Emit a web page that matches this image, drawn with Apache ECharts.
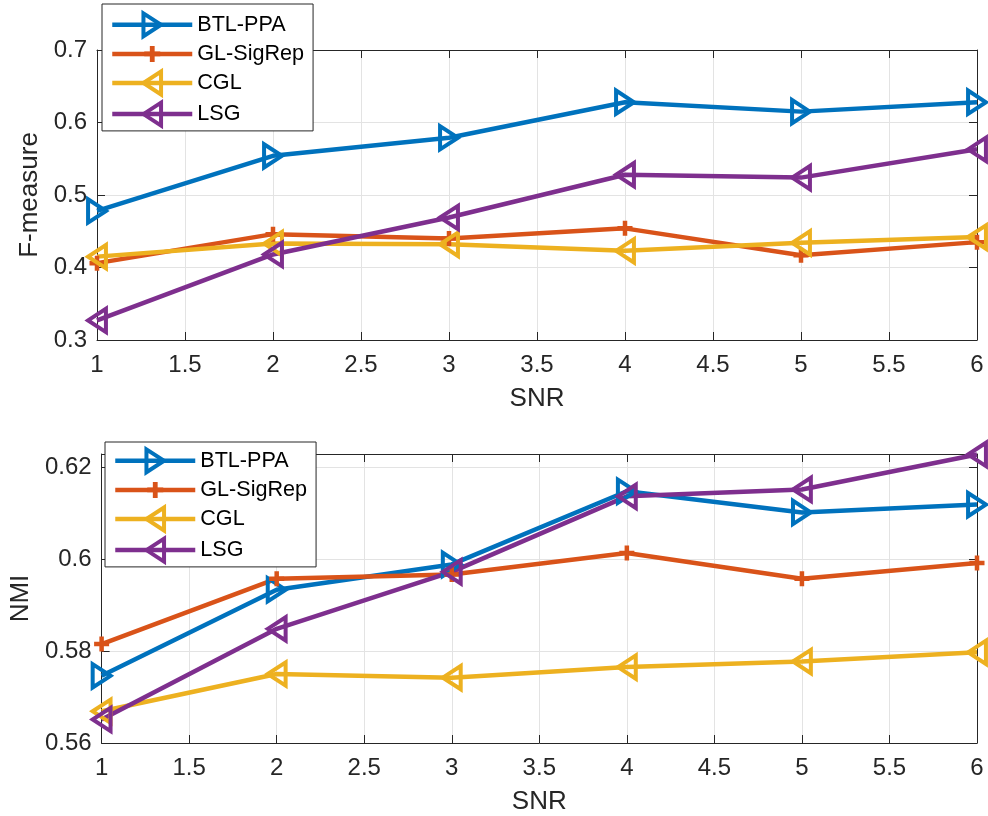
<!DOCTYPE html>
<html>
<head>
<meta charset="utf-8">
<script src="https://cdn.jsdelivr.net/npm/echarts@6/dist/echarts.min.js"></script>
<style>
  html, body { margin: 0; padding: 0; background: #ffffff; }
  #chart { width: 988px; height: 816px; }
</style>
</head>
<body>
<div id="chart"></div>
<script>
// SNR levels on the horizontal axis
const snr = [1, 2, 3, 4, 5, 6];
const methods = ['BTL-PPA', 'GL-SigRep', 'CGL', 'LSG'];

// F-measure per method
const fBTL = [0.478, 0.554, 0.579, 0.628, 0.615, 0.628];
const fGL  = [0.406, 0.446, 0.440, 0.454, 0.417, 0.435];
const fCGL = [0.415, 0.433, 0.432, 0.423, 0.434, 0.442];
const fLSG = [0.327, 0.418, 0.469, 0.528, 0.524, 0.563];

// NMI per method
const nBTL = [0.5746, 0.5933, 0.5988, 0.6147, 0.6101, 0.6118];
const nGL  = [0.5815, 0.5957, 0.5966, 0.6013, 0.5957, 0.5991];
const nCGL = [0.5669, 0.5750, 0.5742, 0.5765, 0.5777, 0.5797];
const nLSG = [0.5651, 0.5848, 0.5972, 0.6136, 0.6151, 0.6227];

// Axis ranges and ticks
const xTicks = { min: 1, max: 6, interval: 0.5 };
const fTicks = { min: 0.3, max: 0.7, interval: 0.1 };
const nTicks = { min: 0.56, max: 0.6228, interval: 0.02 };

const FONT = '"Liberation Sans", Arial, Helvetica, sans-serif';
const AX = '#262626';
const GRIDC = '#e3e3e3';
const LINE_W = 4.5;
const MARK_W = 4;

// Marker outlines drawn inside a padded 24x24 (triangle) / 32x32 (plus) box,
// so the same symbol keeps its proportions in the plot and in the legend.
const triPath  = 'path://M-12,-12M12,12M0,-8.25L10.75,8.25L-10.75,8.25Z';
const plusPath = 'path://M-16,-16M16,16M-3,-10H3V-3H10V3H3V10H-3V3H-10V-3H-3Z';

const styles = {
  'BTL-PPA':   { color: '#0072BD', symbol: triPath,  size: 26, rotate: -90, hollow: true },
  'GL-SigRep': { color: '#D95319', symbol: plusPath, size: 24, rotate: 0,   hollow: false },
  'CGL':       { color: '#EDB120', symbol: triPath,  size: 26, rotate: 90,  hollow: true },
  'LSG':       { color: '#7E2F8E', symbol: triPath,  size: 26, rotate: 90,  hollow: true }
};

function markerStyle(s) {
  return s.hollow
    ? { color: 'rgba(0,0,0,0)', borderColor: s.color, borderWidth: MARK_W }
    : { color: s.color, borderColor: s.color, borderWidth: 0 };
}

function lineSeries(name, values, axisIdx) {
  const s = styles[name];
  return {
    type: 'line',
    name: name,
    xAxisIndex: axisIdx,
    yAxisIndex: axisIdx,
    data: snr.map((x, i) => [x, values[i]]),
    symbol: s.symbol,
    symbolSize: s.size,
    symbolRotate: s.rotate,
    showAllSymbol: true,
    clip: false,
    lineStyle: { color: s.color, width: LINE_W },
    itemStyle: markerStyle(s),
    emphasis: { disabled: true },
    z: 3
  };
}

function xAxes(gridIndex) {
  return [
    {
      type: 'value', gridIndex: gridIndex, position: 'bottom',
      min: xTicks.min, max: xTicks.max, interval: xTicks.interval,
      axisLine: { show: true, onZero: false, lineStyle: { color: AX, width: 1 } },
      axisTick: { show: true, inside: true, length: 8, lineStyle: { color: AX } },
      axisLabel: { fontSize: 24, color: AX, margin: 13, fontFamily: FONT },
      splitLine: { show: true, lineStyle: { color: GRIDC, width: 1 } },
      name: 'SNR', nameLocation: 'middle', nameGap: 46,
      nameTextStyle: { fontSize: 26, color: AX, fontFamily: FONT }
    },
    {
      type: 'value', gridIndex: gridIndex, position: 'top',
      min: xTicks.min, max: xTicks.max, interval: xTicks.interval,
      axisLine: { show: true, onZero: false, lineStyle: { color: AX, width: 1 } },
      axisTick: { show: true, inside: true, length: 8, lineStyle: { color: AX } },
      axisLabel: { show: false },
      splitLine: { show: false }
    }
  ];
}

function yAxes(gridIndex, ticks, name, gap, showMax) {
  return [
    {
      type: 'value', gridIndex: gridIndex, position: 'left',
      min: ticks.min, max: ticks.max, interval: ticks.interval,
      axisLine: { show: true, onZero: false, lineStyle: { color: AX, width: 1 } },
      axisTick: { show: true, inside: true, length: 8, lineStyle: { color: AX } },
      axisLabel: { fontSize: 24, color: AX, margin: 10, fontFamily: FONT, showMaxLabel: showMax },
      splitLine: { show: true, lineStyle: { color: GRIDC, width: 1 } },
      name: name, nameLocation: 'middle', nameGap: gap,
      nameTextStyle: { fontSize: 26, color: AX, fontFamily: FONT }
    },
    {
      type: 'value', gridIndex: gridIndex, position: 'right',
      min: ticks.min, max: ticks.max, interval: ticks.interval,
      axisLine: { show: true, onZero: false, lineStyle: { color: AX, width: 1 } },
      axisTick: { show: true, inside: true, length: 8, lineStyle: { color: AX } },
      axisLabel: { show: false },
      splitLine: { show: false }
    }
  ];
}

function legendBox(left, top, padding) {
  return {
    data: methods.map(m => ({
      name: m,
      itemStyle: markerStyle(styles[m]),
      lineStyle: { color: styles[m].color, width: LINE_W }
    })),
    orient: 'vertical',
    left: left, top: top,
    itemWidth: 80, itemHeight: 32, itemGap: 1.5,
    padding: padding,
    borderColor: AX, borderWidth: 1,
    backgroundColor: '#ffffff',
    selectedMode: false,
    textStyle: { fontSize: 21.6, color: '#000000', fontFamily: FONT },
    z: 10
  };
}

const chart = echarts.init(document.getElementById('chart'), null, { renderer: 'canvas' });
chart.setOption({
  animation: false,
  backgroundColor: '#ffffff',
  grid: [
    { left: 97, right: 11, top: 50, height: 290 },
    { left: 97, right: 11, top: 454, height: 289 }
  ],
  xAxis: [...xAxes(0), ...xAxes(1)],
  yAxis: [...yAxes(0, fTicks, 'F-measure', 48, true), ...yAxes(1, nTicks, 'NMI', 64, false)],
  legend: [
    legendBox(102, 4, [6, 9, 2, 8]),
    legendBox(105, 442, [4, 9, 2, 8])
  ],
  series: [
    lineSeries('BTL-PPA', fBTL, 0),
    lineSeries('GL-SigRep', fGL, 0),
    lineSeries('CGL', fCGL, 0),
    lineSeries('LSG', fLSG, 0),
    lineSeries('BTL-PPA', nBTL, 2),
    lineSeries('GL-SigRep', nGL, 2),
    lineSeries('CGL', nCGL, 2),
    lineSeries('LSG', nLSG, 2)
  ]
});
</script>
</body>
</html>
